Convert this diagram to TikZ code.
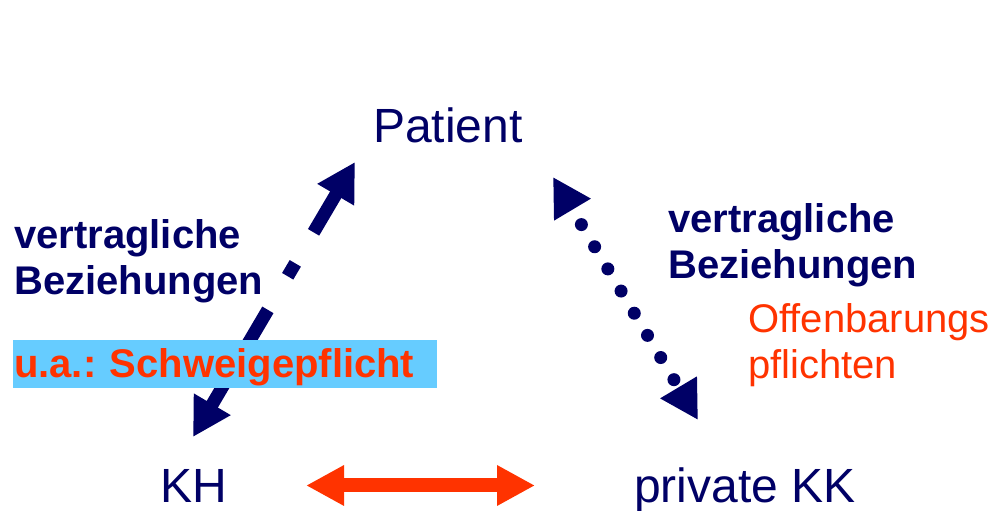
\documentclass[tikz,border=0pt]{standalone}
\usepackage{fontspec}
\setmainfont{Liberation Sans}
\usetikzlibrary{arrows.meta}
\definecolor{navy}{RGB}{0,0,102}
\definecolor{signal}{RGB}{255,51,0}
\definecolor{skyblue}{RGB}{102,204,255}
\frenchspacing
\begin{document}
\begin{tikzpicture}[x=1bp,y=-1bp,
	every node/.style={inner sep=0,anchor=base west},
	party/.style={text=navy,font=\fontsize{48bp}{58bp}\selectfont},
	relation/.style={text=navy,font=\bfseries\fontsize{40bp}{46bp}\selectfont},
	duty/.style={text=signal,font=\fontsize{40bp}{46bp}\selectfont},
	link/.style={navy,line width=13bp,{Triangle[length=38bp,width=40bp]}-{Triangle[length=38bp,width=40bp]}}]
\useasboundingbox (0,0) rectangle (993,511);
% parties
\node[party] (pat) at (373,143) {Patient};
\node[party] (kh) at (160,502) {KH};
\node[party] (kk) at (634,502) {private KK};
% arrow ends
\coordinate (patleft) at (355,162);
\coordinate (khend) at (193,437);
\coordinate (patright) at (553,177);
\coordinate (kkend) at (698,420);
% connectors
\draw[link,dash pattern=on 46bp off 36bp on 15bp off 39bp on 300bp] (patleft) -- (khend);
\draw[link,line cap=round,dash pattern=on 0bp off 25.8bp,dash phase=6bp] (patright) -- (kkend);
\draw[signal,line width=14bp,{Triangle[length=38bp,width=38bp]}-{Triangle[length=38bp,width=38bp]},
	shorten <=79bp,shorten >=99bp] (kh.east) -- (kh.east -| kk.west);
% labels
\node[relation] (lrel1) at (14,249) {vertragliche};
\node[relation] (lrel2) at (14,295) {Beziehungen};
\node[duty,font=\bfseries\fontsize{40bp}{46bp}\selectfont,fill=skyblue,
	text width=422bp,inner xsep=1bp,text height=38bp,text depth=10bp,align=left]
	(secret) at (13,378) {u.a.: Schweigepflicht};
\node[relation] (rrel1) at (668,233) {vertragliche};
\node[relation] (rrel2) at (668,279) {Beziehungen};
\node[duty] (disc1) at (748,333) {Offenbarungs};
\node[duty] (disc2) at (748,379) {pflichten};
\end{tikzpicture}
\end{document}
